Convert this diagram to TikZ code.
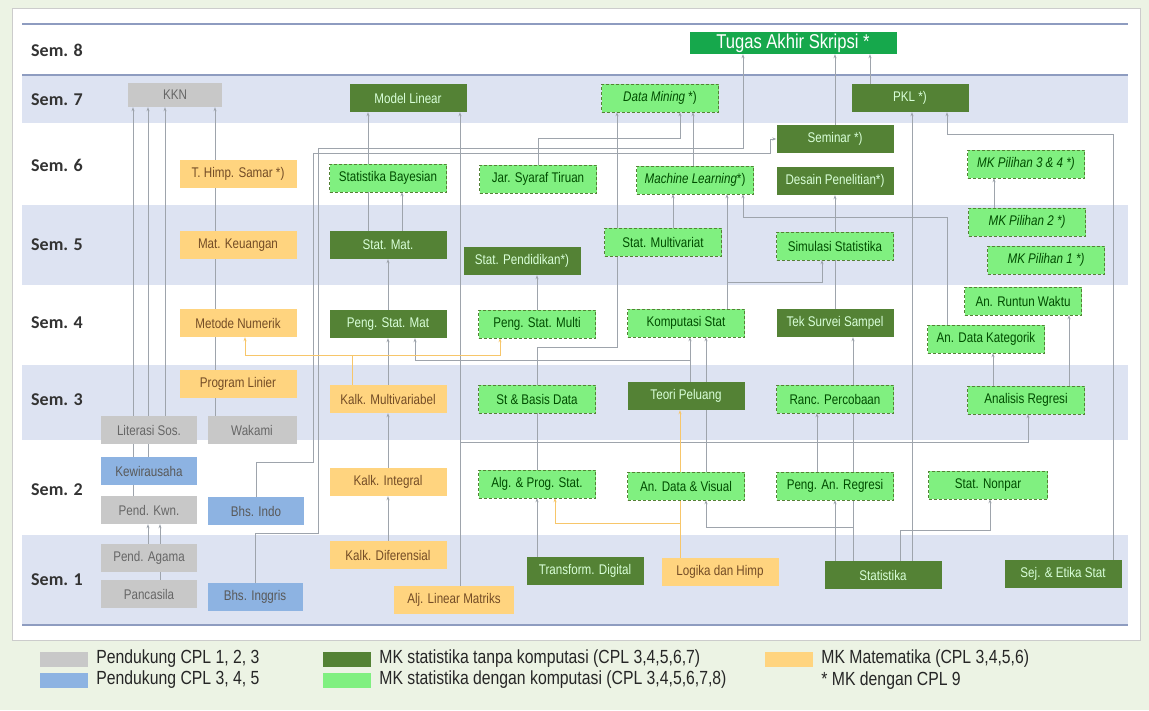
\documentclass[tikz,border=0pt]{standalone}
\usepackage{fontspec}
\setmainfont{Liberation Sans}
\newfontfamily\narrowfont{Liberation Sans}[FakeStretch=0.83]
\newfontfamily\semfont{Carlito}
\usetikzlibrary{arrows.meta,positioning}

\definecolor{bandblue}{HTML}{DDE3F2}
\definecolor{bandline}{HTML}{8E9CC0}
\definecolor{pagebg}{HTML}{ECF3E4}
\definecolor{greybox}{HTML}{C8C8C8}
\definecolor{bluebox}{HTML}{8DB3E2}
\definecolor{darkbox}{HTML}{548235}
\definecolor{lightbox}{HTML}{80F080}
\definecolor{matbox}{HTML}{FFD47F}
\definecolor{tabox}{HTML}{16A84C}
\definecolor{linkgrey}{HTML}{9EA4AC}
\definecolor{linkorange}{HTML}{F7C66A}

\pgfdeclarelayer{bands}
\pgfdeclarelayer{links}
\pgfsetlayers{bands,links,main}

\tikzset{
	mk/.style={minimum width=117pt, minimum height=28pt, inner sep=0pt, font=\narrowfont\fontsize{14}{15}\selectfont},
	pendukung/.style={mk, fill=greybox, text=black!60, minimum width=96pt},
	pendukungb/.style={mk, fill=bluebox, text=black!65, minimum width=96pt},
	tanpa/.style={mk, fill=darkbox, text=green!15!white},
	dengan/.style={mk, fill=lightbox, draw=darkbox, densely dashed, text=green!30!black},
	matk/.style={mk, fill=matbox, text=brown!60!black},
	link/.style={draw=linkgrey, line width=0.8pt, -{Stealth[length=4pt,width=3pt]}},
	linkm/.style={link, draw=linkorange},
	semlabel/.style={font=\semfont\bfseries\fontsize{18}{20}\selectfont, text=black!80},
	legendbox/.style={minimum width=48pt, minimum height=15pt, inner sep=0pt},
	legendtext/.style={font=\narrowfont\fontsize{19}{20}\selectfont, text=black!85, inner sep=0pt},
}

\begin{document}
\begin{tikzpicture}[x=1pt, y=-1pt]
	\useasboundingbox (0,0) rectangle (1149,710);
	\begin{pgfonlayer}{bands}
		\fill[pagebg] (0,0) rectangle (1149,710);
		\draw[black!20, fill=white] (12,8) rectangle (1140,640);
		\foreach \top/\bot in {75/123, 205/285, 365/440, 535/625}{
			\fill[bandblue] (22,\top) rectangle (1128,\bot);
		}
		\foreach \y in {24,75,625}{
			\draw[bandline, line width=1.5pt] (22,\y) -- (1128,\y);
		}
		\foreach \y/\s in {50/8, 100/7, 165/6, 245/5, 323/4, 400/3, 490/2, 580/1}{
			\node[semlabel] (sem\s) at (57,\y) {Sem. \s};
		}
	\end{pgfonlayer}

	% semester 8 dan 7
	\node[mk, fill=tabox, text=white, minimum width=207pt, minimum height=22pt, font=\narrowfont\fontsize{20}{20}\selectfont] (ta) at (793,43) {Tugas Akhir Skripsi *};
	\node[pendukung, minimum width=94pt, minimum height=24pt] (kkn) at (175,95) {KKN};
	\node[tanpa] (modlin) at (408,98) {Model Linear};
	\node[dengan] (dm) at (660,98) {\textit{Data Mining} *)};
	\node[tanpa] (pkl) at (910,98) {PKL *)};

	% semester 6
	\node[matk] (himp) at (238,174) {T. Himp. Samar *)};
	\node[dengan] (bayes) at (388,178) {Statistika Bayesian};
	\node[dengan] (jst) at (538,179) {Jar. Syaraf Tiruan};
	\node[dengan] (ml) at (695,180) {\textit{Machine Learning}*)};
	\node[tanpa] (seminar) at (835,139) {Seminar *)};
	\node[tanpa] (desain) at (835,181) {Desain Penelitian*)};
	\node[dengan] (pil34) at (1026,164) {\textit{MK Pilihan 3 \& 4 *)}};

	% semester 5
	\node[matk] (matkeu) at (238,245) {Mat. Keuangan};
	\node[tanpa] (statmat) at (388,245) {Stat. Mat.};
	\node[tanpa] (statpend) at (522,261) {Stat. Pendidikan*)};
	\node[dengan] (multi) at (663,242) {Stat. Multivariat};
	\node[dengan] (simul) at (835,246) {Simulasi Statistika};
	\node[dengan] (pil2) at (1027,222) {\textit{MK Pilihan 2 *)}};
	\node[dengan] (pil1) at (1046,260) {\textit{MK Pilihan 1 *)}};

	% semester 4
	\node[matk] (metnum) at (238,323) {Metode Numerik};
	\node[tanpa] (pengmat) at (388,324) {Peng. Stat. Mat};
	\node[dengan] (pengmulti) at (537,324) {Peng. Stat. Multi};
	\node[dengan] (komstat) at (686,323) {Komputasi Stat};
	\node[tanpa] (survei) at (835,323) {Tek Survei Sampel};
	\node[dengan] (runtun) at (1023,301) {An. Runtun Waktu};
	\node[dengan] (kategorik) at (986,339) {An. Data Kategorik};

	% semester 3
	\node[matk] (proglin) at (238,384) {Program Linier};
	\node[pendukung] (literasi) at (149,430) {Literasi Sos.};
	\node[pendukung, minimum width=89pt] (wakami) at (252,430) {Wakami};
	\node[matk] (kalkmulti) at (388,399) {Kalk. Multivariabel};
	\node[dengan] (sbd) at (537,399) {St \& Basis Data};
	\node[tanpa] (peluang) at (686,396) {Teori Peluang};
	\node[dengan] (ranc) at (835,399) {Ranc. Percobaan};
	\node[dengan] (regresi) at (1026,400) {Analisis Regresi};

	% semester 2
	\node[pendukungb] (wirausaha) at (149,471) {Kewirausaha};
	\node[pendukung] (pkn) at (149,510) {Pend. Kwn.};
	\node[pendukungb] (indo) at (256,511) {Bhs. Indo};
	\node[matk] (integral) at (388,482) {Kalk. Integral};
	\node[dengan] (algprog) at (537,484) {Alg. \& Prog. Stat.};
	\node[dengan] (visual) at (686,486) {An. Data \& Visual};
	\node[dengan] (pengreg) at (835,486) {Peng. An. Regresi};
	\node[dengan, minimum width=119pt] (nonpar) at (988,485) {Stat. Nonpar};

	% semester 1
	\node[pendukung] (agama) at (149,558) {Pend. Agama};
	\node[pendukung] (pancasila) at (149,594) {Pancasila};
	\node[pendukungb, minimum width=95pt] (inggris) at (255,597) {Bhs. Inggris};
	\node[matk] (diferensial) at (388,555) {Kalk. Diferensial};
	\node[matk, minimum width=120pt] (aljlin) at (454,600) {Alj. Linear Matriks};
	\node[tanpa] (transform) at (585,571) {Transform. Digital};
	\node[matk] (logika) at (720,572) {Logika dan Himp};
	\node[tanpa] (statistika) at (883,575) {Statistika};
	\node[tanpa] (etika) at (1063,574) {Sej. \& Etika Stat};

	% prasyarat
	\begin{pgfonlayer}{links}
		\draw[link] (pkn.north -| 133,0) -- (kkn.south -| 133,0);
		\draw[link] (wirausaha.north -| 148,0) -- (kkn.south -| 148,0);
		\draw[link] (literasi.north -| 165,0) -- (kkn.south -| 165,0);
		\draw[link] (wakami.north -| 215,0) -- (kkn.south -| 215,0);
		\draw[link] (agama.north -| 148,0) -- (pkn.south -| 148,0);
		\draw[link] (pancasila.north -| 160,0) -- (pkn.south -| 160,0);
		\draw[link] (inggris.north) |- (318,533) |- (743,148) -- (ta.south -| 743,0);
		\draw[link] (indo.north) |- (313,462) |- (770,153) |- (seminar.west);
		\draw[link] (jst.north) |- (680,138) -- (dm.south -| 680,0);
		\draw[link] (ml.north -| 693,0) -- (dm.south -| 693,0);
		\draw[link] (algprog.north) |- (617,347) -- (dm.south -| 617,0);
		\draw[link] (transform.north -| 537,0) -- (algprog.south);
		\draw[link] (seminar.north) -- (ta.south -| seminar.north);
		\draw[link] (pkl.north -| 870,0) -- (ta.south -| 870,0);
		\draw[link] (etika.north -| 1113,0) |- (947,134) -- (pkl.south -| 947,0);
		\draw[link] (statistika.north -| 912,0) -- (pkl.south -| 912,0);
		\draw[link] (kategorik.north -| 947,0) |- (743,217) -- (ml.south -| 743,0);
		\draw[link] (statmat.north -| 368,0) -- (modlin.south -| 368,0);
		\draw[link] (statmat.north -| 402,0) -- (bayes.south -| 402,0);
		\draw[link] (aljlin.north -| 460,0) -- (modlin.south -| 460,0);
		\draw[link] (aljlin.north -| 460,0) |- (1028,442) -- (regresi.south -| 1028,0);
		\draw[link] (pengreg.north -| 817,0) -- (ranc.south -| 817,0);
		\draw[link] (diferensial.north) -- (integral.south);
		\draw[link] (integral.north) -- (kalkmulti.south);
		\draw[link] (kalkmulti.north) -- (pengmat.south);
		\draw[link] (pengmat.north) -- (statmat.south);
		\draw[link] (peluang.north -| 690,0) -- (komstat.south -| 690,0);
		\draw[link] (peluang.north -| 690,0) |- (415,360) -- (pengmat.south -| 415,0);
		\draw[link] (visual.north -| 706,0) -- (komstat.south -| 706,0);
		\draw[linkm] (logika.north -| 680,0) -- (peluang.south -| 680,0);
		\draw[linkm] (logika.north -| 680,0) |- (555,523) -- (algprog.south -| 555,0);
		\draw[linkm] (kalkmulti.north -| 352,0) |- (245,355) -- (metnum.south -| 245,0);
		\draw[linkm] (kalkmulti.north -| 352,0) |- (500,355) -- (pengmulti.south -| 500,0);
		\draw[link] (statistika.north -| 835,0) -- (pengreg.south -| 835,0);
		\draw[link] (statistika.north -| 853,0) -- (survei.south -| 853,0);
		\draw[link] (statistika.north -| 853,0) |- (706,527) -- (visual.south -| 706,0);
		\draw[link] (statistika.north -| 900,0) |- (990,530) -- (nonpar.south -| 990,0);
		\draw[link] (survei.north) -- (desain.south);
		\draw[link] (komstat.north -| 727,0) -- (ml.south -| 727,0);
		\draw[link] (komstat.north -| 727,0) |- (822,282) -- (simul.south -| 822,0);
		\draw[link] (multi.north -| 673,0) -- (ml.south -| 673,0);
		\draw[link] (pengmulti.north) -- (statpend.south -| pengmulti.north);
		\draw[link] (pil2.north -| 994,0) -- (pil34.south -| 994,0);
		\draw[link] (regresi.north -| 993,0) -- (kategorik.south -| 993,0);
		\draw[link] (regresi.north -| 1069,0) -- (runtun.south -| 1069,0);
	\end{pgfonlayer}

	% keterangan
	\node[legendbox, fill=greybox] (lgrey) at (64,659) {};
	\node[legendtext, right=8pt of lgrey] {Pendukung CPL 1, 2, 3};
	\node[legendbox, fill=bluebox] (lblue) at (64,680) {};
	\node[legendtext, right=8pt of lblue] {Pendukung CPL 3, 4, 5};
	\node[legendbox, fill=darkbox] (ldark) at (347,659) {};
	\node[legendtext, right=8pt of ldark] {MK statistika tanpa komputasi (CPL 3,4,5,6,7)};
	\node[legendbox, fill=lightbox] (llight) at (347,680) {};
	\node[legendtext, right=8pt of llight] {MK statistika dengan komputasi (CPL 3,4,5,6,7,8)};
	\node[legendbox, fill=matbox] (lmat) at (789,659) {};
	\node[legendtext, right=8pt of lmat] (lmattext) {MK Matematika (CPL 3,4,5,6)};
	\node[legendtext, anchor=west] (lcpl) at (lmattext.west |- 0,681) {* MK dengan CPL 9};
\end{tikzpicture}
\end{document}
